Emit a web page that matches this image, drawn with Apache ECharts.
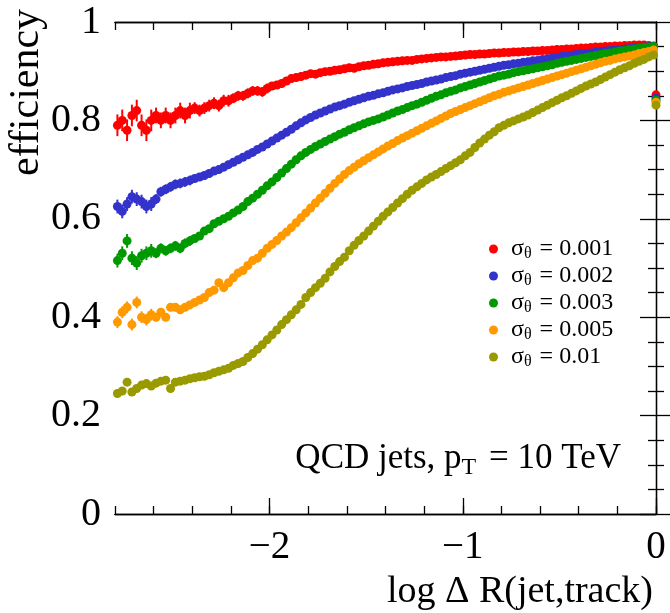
<!DOCTYPE html>
<html><head><meta charset="utf-8">
<script src="https://cdn.jsdelivr.net/npm/echarts@6/dist/echarts.min.js"></script>
<style>html,body{margin:0;padding:0;background:#fff}#c{width:670px;height:613px}</style>
</head><body><div id="c"></div>
<script>
// ---- data ----
const binStart = -2.8, binWidth = 0.025;   // bin layout of the efficiency curves
const xTickLabels = [-2, -1, 0];
const yTickLabels = [0, 0.2, 0.4, 0.6, 0.8, 1];
const sigmaLabels = ['0.001', '0.002', '0.003', '0.005', '0.01'];
const colors = ['#ff0000', '#3333cc', '#009900', '#ff9900', '#999900'];

const effS001 = [
0.79,0.80,0.78,0.81,0.82,0.79,0.78,0.80,
0.81,0.80,0.81,0.80,0.81,0.82,0.81,0.82,
0.825,0.82,0.825,0.83,0.835,0.83,0.84,0.84,
0.845,0.85,0.85,0.855,0.86,0.86,0.858,0.865,
0.87,0.872,0.875,0.88,0.885,0.887,0.889,0.892,
0.895,0.894,0.897,0.899,0.900,0.902,0.903,0.905,
0.907,0.906,0.909,0.911,0.912,0.914,0.915,0.917,
0.918,0.919,0.920,0.921,0.922,0.922,0.924,0.925,
0.926,0.927,0.928,0.929,0.929,0.930,0.931,0.932,
0.933,0.934,0.934,0.935,0.935,0.936,0.937,0.937,
0.938,0.938,0.939,0.939,0.940,0.940,0.941,0.941,
0.942,0.942,0.943,0.944,0.944,0.945,0.945,0.946,
0.947,0.947,0.948,0.949,0.949,0.950,0.950,0.951,
0.951,0.952,0.952,0.953,0.953,0.953,0.952,0.951];

const effS002 = [
0.625,0.615,0.63,0.645,0.64,0.635,0.625,0.63,
0.64,0.655,0.66,0.665,0.67,0.672,0.675,0.678,
0.682,0.685,0.688,0.692,0.697,0.70,0.705,0.71,
0.715,0.72,0.725,0.73,0.735,0.741,0.746,0.752,
0.758,0.764,0.770,0.776,0.782,0.789,0.795,0.801,
0.806,0.811,0.815,0.819,0.823,0.827,0.830,0.833,
0.837,0.840,0.843,0.846,0.849,0.851,0.854,0.856,
0.859,0.862,0.864,0.866,0.869,0.871,0.873,0.875,
0.878,0.880,0.882,0.884,0.887,0.889,0.891,0.894,
0.896,0.898,0.900,0.902,0.904,0.906,0.908,0.910,
0.912,0.913,0.915,0.916,0.918,0.919,0.921,0.922,
0.924,0.925,0.927,0.928,0.930,0.931,0.932,0.934,
0.935,0.936,0.937,0.939,0.940,0.941,0.942,0.943,
0.944,0.945,0.946,0.947,0.948,0.949,0.950,0.950];

const effS003 = [
0.515,0.53,0.555,0.52,0.51,0.525,0.53,0.535,
0.53,0.54,0.535,0.54,0.545,0.54,0.55,0.555,
0.56,0.565,0.575,0.58,0.59,0.595,0.60,0.605,
0.612,0.618,0.625,0.635,0.642,0.65,0.658,0.667,
0.675,0.684,0.693,0.702,0.711,0.72,0.728,0.735,
0.741,0.747,0.752,0.757,0.762,0.767,0.772,0.776,
0.781,0.785,0.789,0.793,0.797,0.800,0.803,0.807,
0.811,0.815,0.819,0.822,0.826,0.830,0.833,0.837,
0.841,0.845,0.849,0.852,0.856,0.859,0.862,0.866,
0.869,0.872,0.875,0.878,0.881,0.884,0.887,0.890,
0.892,0.894,0.897,0.899,0.901,0.903,0.905,0.907,
0.909,0.911,0.913,0.916,0.918,0.920,0.922,0.924,
0.926,0.928,0.930,0.932,0.934,0.936,0.937,0.939,
0.941,0.942,0.944,0.945,0.947,0.948,0.949,0.950];

const effS005 = [
0.39,0.41,0.42,0.385,0.43,0.40,0.395,0.405,
0.40,0.41,0.40,0.42,0.42,0.415,0.42,0.425,
0.43,0.435,0.44,0.45,0.455,0.47,0.46,0.47,
0.48,0.49,0.495,0.505,0.515,0.52,0.53,0.54,
0.548,0.556,0.565,0.573,0.582,0.592,0.602,0.612,
0.622,0.632,0.642,0.652,0.662,0.672,0.681,0.69,
0.698,0.705,0.712,0.718,0.724,0.730,0.736,0.742,
0.748,0.753,0.759,0.764,0.769,0.774,0.779,0.784,
0.789,0.794,0.799,0.804,0.809,0.814,0.818,0.822,
0.826,0.830,0.834,0.838,0.842,0.846,0.850,0.853,
0.857,0.860,0.863,0.866,0.869,0.872,0.875,0.878,
0.881,0.884,0.887,0.890,0.893,0.896,0.899,0.902,
0.905,0.908,0.911,0.914,0.917,0.920,0.922,0.925,
0.927,0.929,0.931,0.933,0.936,0.938,0.940,0.943];

const effS01 = [
0.245,0.25,0.268,0.248,0.255,0.262,0.265,0.26,
0.266,0.27,0.272,0.255,0.268,0.27,0.272,0.275,
0.277,0.279,0.28,0.283,0.287,0.29,0.293,0.296,
0.302,0.306,0.31,0.318,0.326,0.335,0.344,0.354,
0.364,0.374,0.385,0.395,0.405,0.415,0.426,0.440,
0.450,0.460,0.469,0.479,0.492,0.503,0.513,0.522,
0.535,0.546,0.556,0.565,0.575,0.585,0.595,0.605,
0.614,0.623,0.632,0.641,0.650,0.658,0.665,0.672,
0.679,0.685,0.690,0.696,0.702,0.708,0.714,0.720,
0.728,0.735,0.745,0.754,0.762,0.770,0.777,0.785,
0.790,0.795,0.799,0.803,0.807,0.811,0.816,0.821,
0.826,0.831,0.836,0.841,0.846,0.850,0.855,0.860,
0.865,0.870,0.874,0.878,0.883,0.888,0.893,0.898,
0.903,0.907,0.911,0.916,0.920,0.924,0.929,0.933];

// vertical error (half-length) per 0.2-wide stretch of log ΔR
const errS001 = [0.022,0.016,0.012,0.010,0.008,0.006,0.005,0.005,0.004,0.004,0.004,0.003,0.003,0.003];
const errS002 = [0.014,0.010,0.008,0.006,0.005,0.004,0.004,0.003,0.003,0.003,0.003,0.003,0.003,0.003];
const errS003 = [0.014,0.010,0.007,0.006,0.005,0.004,0.004,0.003,0.003,0.003,0.003,0.003,0.003,0.003];
const errS005 = [0.012,0.008,0.006,0.005,0.004,0.004,0.003,0.003,0.003,0.003,0.003,0.003,0.003,0.003];
const errS01  = [0.008,0.006,0.005,0.004,0.004,0.003,0.003,0.003,0.003,0.003,0.003,0.003,0.003,0.003];

// overflow bin drawn at log ΔR = 0
const overflowX = 0;
const overflowValues = [0.852, 0.845, 0.841, 0.837, 0.831];

const seriesValues = [effS001, effS002, effS003, effS005, effS01];
const seriesErrors = [errS001, errS002, errS003, errS005, errS01];

// ---- chart ----
const FONT = 'Liberation Serif';
const chart = echarts.init(document.getElementById('c'), null, {renderer: 'canvas'});

const binX = i => binStart + (i + 0.5) * binWidth;
const names = sigmaLabels.map(s => 'σθ = ' + s);

const series = [];
seriesValues.forEach((vals, k) => {
  const errs = seriesErrors[k];
  const errData = vals.map((v, i) => {
    const e = errs[Math.floor(i / 8)];
    return [binX(i), v - e, v + e];
  });
  series.push({
    type: 'custom',
    xAxisIndex: 0, yAxisIndex: 0,
    silent: true,
    z: 2 + 2 * k,
    data: errData,
    renderItem: (params, api) => {
      const p0 = api.coord([api.value(0), api.value(1)]);
      const p1 = api.coord([api.value(0), api.value(2)]);
      return {type: 'line', shape: {x1: p0[0], y1: p0[1], x2: p1[0], y2: p1[1]},
        style: {stroke: colors[k], lineWidth: 2}};
    }
  });
  const pts = vals.map((v, i) => [binX(i), v]);
  pts.push([overflowX, overflowValues[k]]);
  series.push({
    name: names[k],
    type: 'scatter',
    xAxisIndex: 0, yAxisIndex: 0,
    symbol: 'circle',
    symbolSize: 9,
    itemStyle: {color: colors[k], opacity: 1},
    clip: false,
    data: pts,
    z: 3 + 2 * k
  });
});

const minus = v => String(v).replace('-', '\u2212');
const axisLine = {show: true, lineStyle: {color: '#000', width: 1.3}};
const xBase = {type: 'value', min: -2.8, max: 0, interval: 0.2, splitLine: {show: false}, axisLine};
const tickLine = {color: '#000', width: 1.3};

const option = {
  backgroundColor: '#fff',
  animation: false,
  grid: {left: 115, right: 14, top: 22, bottom: 99},
  xAxis: [
    Object.assign({}, xBase, {position: 'bottom',
      axisTick: {show: true, inside: true, length: 16, customValues: xTickLabels, lineStyle: tickLine},
      axisLabel: {show: true, customValues: xTickLabels, formatter: minus, margin: 14,
        fontFamily: FONT, fontSize: 39, color: '#000'}}),
    Object.assign({}, xBase, {position: 'bottom',
      axisTick: {show: true, inside: true, length: 8, lineStyle: tickLine},
      axisLabel: {show: false}}),
    Object.assign({}, xBase, {position: 'top',
      axisTick: {show: true, inside: true, length: 16, customValues: [-2, -1], lineStyle: tickLine},
      axisLabel: {show: false}}),
    Object.assign({}, xBase, {position: 'top',
      axisTick: {show: true, inside: true, length: 8, lineStyle: tickLine},
      axisLabel: {show: false}})
  ],
  yAxis: [
    {type: 'value', min: 0, max: 1, interval: 0.2, position: 'left', splitLine: {show: false}, axisLine,
      axisTick: {show: true, inside: true, length: 16, lineStyle: tickLine},
      minorTick: {show: true, splitNumber: 4, length: 8, lineStyle: tickLine},
      axisLabel: {show: true, margin: 14, fontFamily: FONT, fontSize: 40, color: '#000',
        customValues: yTickLabels}},
    {type: 'value', min: 0, max: 1, interval: 0.2, position: 'right', splitLine: {show: false}, axisLine,
      axisTick: {show: true, inside: true, length: 16, lineStyle: tickLine},
      minorTick: {show: true, splitNumber: 4, length: 8, lineStyle: tickLine},
      axisLabel: {show: false}}
  ],
  legend: {
    show: true, orient: 'vertical', left: 484, top: 232,
    itemWidth: 9, itemHeight: 9, itemGap: 2, icon: 'circle',
    data: names,
    formatter: name => {
      const s = name.replace('σθ = ', '');
      return '{m|σ}{s|θ}{m| = ' + s + '}';
    },
    textStyle: {
      padding: [0, 0, 0, 8],
      rich: {
        m: {fontFamily: FONT, fontSize: 24, color: '#000', lineHeight: 26, verticalAlign: 'middle'},
        s: {fontFamily: FONT, fontSize: 16, color: '#000', lineHeight: 26, verticalAlign: 'bottom', padding: [0, 2, 0, 0]}
      }
    }
  },
  graphic: [
    {type: 'text', x: 6, y: 176, rotation: Math.PI / 2,
      style: {text: 'efficiency', fontFamily: FONT, fontSize: 42, fill: '#000', align: 'left', verticalAlign: 'top'}},
    {type: 'text', x: 653, y: 592,
      style: {text: 'log \u0394 R(jet,track)', fontFamily: FONT, fontSize: 38, fill: '#000', align: 'right', verticalAlign: 'middle'}},
    {type: 'text', x: 621, y: 459,
      style: {text: '{m|QCD jets, p}{s|T}{m| = 10 TeV}', align: 'right', verticalAlign: 'middle',
        rich: {
          m: {fontFamily: FONT, fontSize: 35, fill: '#000', lineHeight: 42, verticalAlign: 'middle'},
          s: {fontFamily: FONT, fontSize: 24, fill: '#000', lineHeight: 42, verticalAlign: 'bottom', padding: [0, 4, 0, 0]}
        }}}
  ],
  series
};
chart.setOption(option);
</script></body></html>
